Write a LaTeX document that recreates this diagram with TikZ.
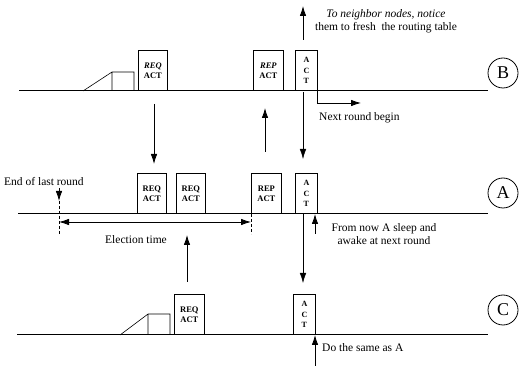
\documentclass[tikz,border=0pt]{standalone}
\usepackage{fontspec}
\setmainfont{Liberation Serif}
\usetikzlibrary{arrows.meta}
\tikzset{
  tl/.style={line width=1pt},
  boxn/.style={draw, line width=0.8pt, inner sep=0pt, anchor=south west, align=center,
     font=\fontsize{8.5}{9.5}\selectfont\bfseries},
  wide/.style={minimum width=29pt, minimum height=40pt},
  slim/.style={minimum width=22pt, minimum height=40pt},
  arr/.style={line width=0.8pt, -{Latex[length=10pt,width=6.5pt]}},
  darr/.style={line width=0.8pt, {Latex[length=10pt,width=6.5pt]}-{Latex[length=10pt,width=6.5pt]}},
  thin/.style={line width=0.6pt},
  lbl/.style={font=\fontsize{11.5}{13}\selectfont, inner sep=0pt},
  cnode/.style={draw, circle, line width=0.8pt, minimum size=30pt, inner sep=0pt, font=\fontsize{18}{18}\selectfont}
}
\begin{document}
\begin{tikzpicture}[x=1pt,y=-1pt]
\useasboundingbox (0,0) rectangle (520,366);
% ---------------- timelines
\coordinate (bL) at (19,91); \coordinate (bR) at (488,91);
\coordinate (aL) at (18,214); \coordinate (aR) at (488,214);
\coordinate (cL) at (17,335); \coordinate (cR) at (488,335);
\draw[tl] (bL) -- (bR);
\draw[tl] (aL) -- (aR);
\draw[tl] (cL) -- (cR);
\node[cnode] (B) at (503,73) {B};
\node[cnode] (A) at (503,193) {A};
\node[cnode] (C) at (503,310) {C};
% ---------------- B row
\draw[thin] (83,91) -- (112,72) -- (134,72) -- (134,91) (112,72) -- (112,91);
\node[boxn,wide] (breq) at (138,91) {\itshape REQ\\ACT};
\node[boxn,wide,minimum width=30pt] (brep) at (253,91) {\itshape REP\\ACT};
\node[boxn,slim,font=\fontsize{8}{10.5}\selectfont\bfseries] (bact) at (295,91) {A\\C\\T};
% ---------------- A row
\node[boxn,wide] (areq1) at (137,214) {REQ\\ACT};
\node[boxn,wide] (areq2) at (176,214) {REQ\\ACT};
\node[boxn,wide,minimum width=30pt] (arep) at (251,214) {REP\\ACT};
\node[boxn,slim,font=\fontsize{8}{10.5}\selectfont\bfseries] (aact) at (295,214) {A\\C\\T};
% ---------------- C row
\draw[thin] (120,335) -- (148,314) -- (170,314) -- (170,335) (148,314) -- (148,335);
\node[boxn,wide,minimum width=30pt] (creq) at (174,335) {REQ\\ACT};
\node[boxn,slim,font=\fontsize{8}{10.5}\selectfont\bfseries] (cact) at (293,335) {A\\C\\T};
% ---------------- inter-row arrows
\coordinate (p1s) at (154,104); \coordinate (p1e) at (154,164);
\draw[arr] (p1s) -- (p1e);
\coordinate (p2s) at (265,152); \coordinate (p2e) at (265,108);
\draw[arr] (p2s) -- (p2e);
\coordinate (p3s) at (303,92); \coordinate (p3e) at (303,159);
\draw[arr, line width=0.5pt] (p3s) -- (p3e);
\coordinate (p4s) at (303,40); \coordinate (p4e) at (303,6);
\draw[arr] (p4s) -- (p4e);
\coordinate (p5s) at (303,214); \coordinate (p5e) at (303,283);
\draw[arr, line width=0.5pt] (p5s) -- (p5e);
\coordinate (p6s) at (187,282); \coordinate (p6e) at (187,235);
\draw[arr] (p6s) -- (p6e);
% next round begin
\coordinate (nr0) at (317,91); \coordinate (nr1) at (317,103); \coordinate (nr2) at (361,103);
\draw[arr] (nr0) -- (nr1) -- (nr2);
\node[lbl, anchor=west] (tnr) at (319,118) {Next round begin};
% top label
\node[lbl, align=center] (ttop) at (386,21) {\itshape To neighbor nodes, notice\\them to fresh\ \ the routing table};
% end of last round
\node[lbl, anchor=west] (teol) at (4,182) {End of last round};
\coordinate (e0) at (59,188); \coordinate (e1) at (59,201); \coordinate (e2) at (59,234);
\draw[arr] (e0) -- (e1);
\draw[thin, densely dashed] (e1) -- (e2);
\coordinate (r1) at (251,214); \coordinate (r2) at (251,234);
\draw[thin, densely dashed] (r1) -- (r2);
\coordinate (el0) at (59,222); \coordinate (el1) at (251,222);
\draw[darr] (el0) -- (el1);
\node[lbl] (tel) at (136,240) {Election time};
% A sleep
\coordinate (s0) at (315,234); \coordinate (s1) at (315,214);
\draw[arr] (s0) -- (s1);
\node[lbl, align=center] (tsl) at (384,234) {From now A sleep and\\awake at next round};
% C same
\coordinate (d0) at (315,366); \coordinate (d1) at (315,335);
\draw[arr] (d0) -- (d1);
\node[lbl, anchor=west] (tds) at (322,348) {Do the same as A};
\end{tikzpicture}
\end{document}
